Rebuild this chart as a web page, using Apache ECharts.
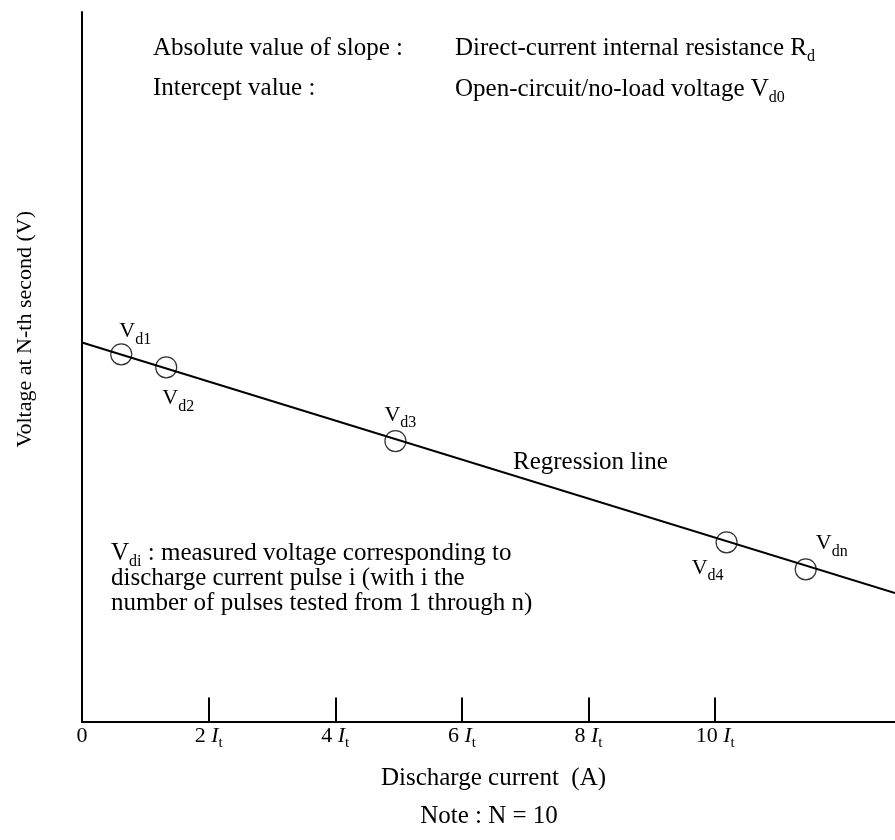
<!DOCTYPE html>
<html>
<head>
<meta charset="utf-8">
<script src="https://cdn.jsdelivr.net/npm/echarts@6/dist/echarts.min.js"></script>
<style>
html,body{margin:0;padding:0;background:#fff;}
#chart{width:895px;height:840px;}
</style>
</head>
<body>
<div id="chart"></div>
<script>
// ---- data ----
const pointNames = ['d1', 'd2', 'd3', 'd4', 'dn'];
const currentValues = [0.62, 1.33, 4.95, 10.18, 11.43];
const voltageValues = [51.75, 49.92, 39.53, 25.26, 21.45];
const regressionCurrent = [0, 12.84];
const regressionVoltage = [53.42, 18.11];
const xTickValues = [0, 2, 4, 6, 8, 10];
const xTickMarks = [2, 4, 6, 8, 10];
const xTickUnit = ['I', 't'];
const xAxisName = 'Discharge current  (A)';
const yAxisName = 'Voltage at N-th second (V)';
const headerLeft = ['Absolute value of slope :', 'Intercept value :'];
const headerRight = [['Direct-current internal resistance R', 'd'], ['Open-circuit/no-load voltage V', 'd0']];
const regressionLabel = 'Regression line';
const noteLines = [['V', 'di', ' : measured voltage corresponding to'], 'discharge current pulse i (with i the', 'number of pulses tested from 1 through n)'];
const footNote = 'Note : N = 10';

// ---- styles ----
const F = 'Liberation Serif';
const labelOffsets = [[14, -23], [12, 31], [5, -26], [-19, 26], [26, -26]];
const bigRich = {
  m: {fontSize: 25, lineHeight: 25, verticalAlign: 'top', fontFamily: F, color: '#000'},
  s: {fontSize: 16, lineHeight: 2, padding: [13, 0, 0, 0], verticalAlign: 'top', fontFamily: F, color: '#000'}
};

const chart = echarts.init(document.getElementById('chart'), null, {renderer: 'canvas'});

const pointData = currentValues.map((x, i) => ({
  value: [x, voltageValues[i]],
  name: pointNames[i],
  label: {offset: labelOffsets[i]}
}));

const noteText = '{m|' + noteLines[0][0] + '}{s|' + noteLines[0][1] + '}{m|' + noteLines[0][2] + '}\n{m|' +
  noteLines[1] + '}\n{m|' + noteLines[2] + '}';

const option = {
  backgroundColor: '#fff',
  animation: false,
  grid: {left: 82, right: 0, top: 12, bottom: 118.5, containLabel: false},
  xAxis: {
    type: 'value', min: 0, max: 12.84,
    splitLine: {show: false},
    axisLine: {show: true, onZero: false, lineStyle: {color: '#000', width: 2}},
    axisTick: {show: true, inside: true, length: 24, customValues: xTickMarks, lineStyle: {color: '#000', width: 2}},
    axisLabel: {
      customValues: xTickValues,
      margin: 4,
      formatter: function (v) {
        if (v === 0) return '{n|0}';
        return '{n|' + v + ' }{i|' + xTickUnit[0] + '}{s|' + xTickUnit[1] + '}';
      },
      rich: {
        n: {fontSize: 22, lineHeight: 22, verticalAlign: 'top', fontFamily: F, color: '#000'},
        i: {fontSize: 22, lineHeight: 22, verticalAlign: 'top', fontStyle: 'italic', fontFamily: F, color: '#000'},
        s: {fontSize: 15, lineHeight: 2, padding: [10, 0, 0, 0], verticalAlign: 'top', fontFamily: F, color: '#000'}
      }
    },
    name: xAxisName,
    nameLocation: 'middle',
    nameGap: 44,
    nameTextStyle: {fontSize: 25, lineHeight: 25, fontFamily: F, color: '#000', padding: [0, 0, 0, 10]}
  },
  yAxis: {
    type: 'value', min: 0, max: 100,
    splitLine: {show: false},
    axisTick: {show: false},
    axisLabel: {show: false},
    axisLine: {show: true, onZero: false, lineStyle: {color: '#000', width: 2}},
    name: yAxisName,
    nameLocation: 'middle',
    nameGap: 46,
    nameTextStyle: {fontSize: 22, lineHeight: 22, fontFamily: F, color: '#000', padding: [0, 0, 0, 75]}
  },
  series: [
    {
      type: 'line',
      data: regressionCurrent.map((x, i) => [x, regressionVoltage[i]]),
      symbol: 'none',
      lineStyle: {color: '#000', width: 2},
      silent: true
    },
    {
      type: 'scatter',
      data: pointData,
      symbol: 'circle',
      symbolSize: 21,
      itemStyle: {color: '#fff', borderColor: '#333', borderWidth: 1.2, opacity: 1},
      label: {
        show: true,
        position: 'inside',
        align: 'center',
        verticalAlign: 'middle',
        formatter: function (p) { return '{v|V}{s|' + p.name + '}'; },
        rich: {
          v: {fontSize: 22, lineHeight: 22, verticalAlign: 'top', fontFamily: F, color: '#000'},
          s: {fontSize: 16, lineHeight: 2, padding: [11, 0, 0, 0], verticalAlign: 'top', fontFamily: F, color: '#000'}
        }
      }
    }
  ],
  graphic: [
    {type: 'text', left: 153, top: 35.5, style: {text: '{m|' + headerLeft[0] + '}', rich: bigRich}},
    {type: 'text', left: 153, top: 75.5, style: {text: '{m|' + headerLeft[1] + '}', rich: bigRich}},
    {type: 'text', left: 455, top: 35.5, style: {text: '{m|' + headerRight[0][0] + '}{s|' + headerRight[0][1] + '}', rich: bigRich}},
    {type: 'text', left: 455, top: 76.5, style: {text: '{m|' + headerRight[1][0] + '}{s|' + headerRight[1][1] + '}', rich: bigRich}},
    {type: 'text', left: 513, top: 449.5, style: {text: '{m|' + regressionLabel + '}', rich: bigRich}},
    {type: 'text', left: 111, top: 540.5, style: {text: noteText, rich: bigRich}},
    {type: 'text', x: 489, y: 816, style: {text: footNote, align: 'center', verticalAlign: 'middle', fontSize: 25, fontFamily: F, fill: '#000'}}
  ]
};
chart.setOption(option);
</script>
</body>
</html>
